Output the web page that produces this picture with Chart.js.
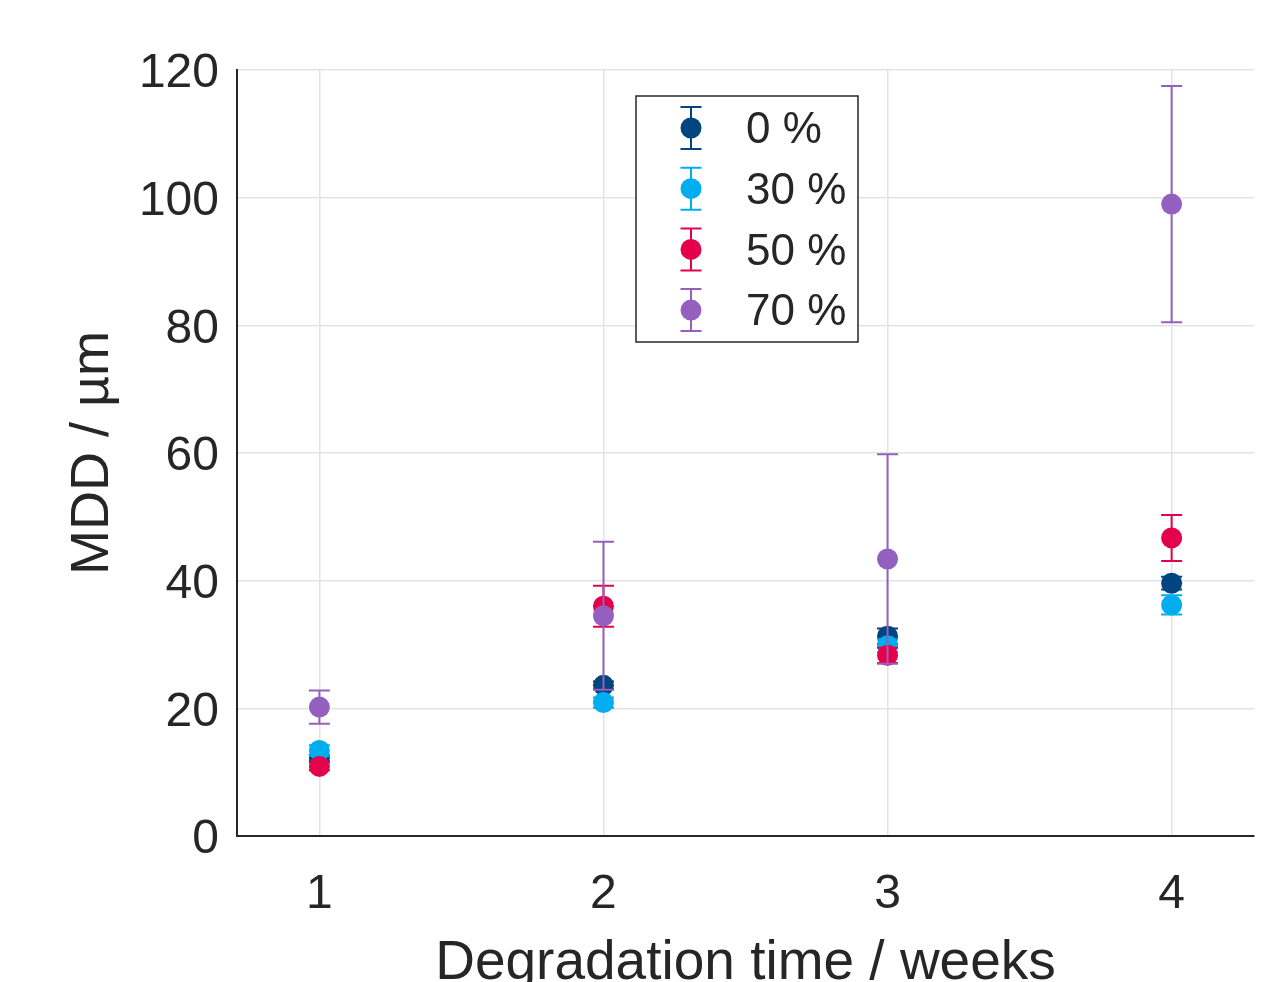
<!DOCTYPE html>
<html>
<head>
<title>MDD vs degradation time</title>
<script src="https://cdn.jsdelivr.net/npm/chart.js"></script>
<style>
  html, body { margin: 0; padding: 0; background: #fff; }
  #wrap { width: 1267px; height: 982px; }
</style>
</head>
<body>
<div id="wrap"><canvas id="mdd"></canvas></div>
<script>
// data
const weeks = [1, 2, 3, 4];
const seriesNames = ['0 %', '30 %', '50 %', '70 %'];
const mdd0  = [12.2, 23.6, 31.3, 39.6];
const err0  = [0.5, 0.6, 1.2, 1.0];
const mdd30 = [13.4, 20.9, 29.8, 36.2];
const err30 = [0.8, 0.8, 1.0, 1.5];
const mdd50 = [10.9, 36.0, 28.3, 46.7];
const err50 = [0.6, 3.2, 1.2, 3.6];
const mdd70 = [20.2, 34.5, 43.4, 99.0];
const err70 = [2.6, 11.6, 16.4, 18.5];
const xTicks = [1, 2, 3, 4];

const colors = ['#00457f', '#00aeef', '#e5004b', '#9460c0'];
const means = [mdd0, mdd30, mdd50, mdd70];
const errs = [err0, err30, err50, err70];
const ink = '#262626';
const fontName = "'Liberation Sans', Arial, sans-serif";

// error bars, drawn just before each series' markers
const errorBars = {
  id: 'errorBars',
  beforeDatasetDraw(chart, args) {
    const ds = chart.data.datasets[args.index];
    const xs = chart.scales.x, ys = chart.scales.y;
    const ctx = chart.ctx;
    ctx.save();
    ctx.strokeStyle = ds.borderColor;
    ctx.lineWidth = 2;
    ds.data.forEach((p, i) => {
      const px = xs.getPixelForValue(p.x);
      const top = ys.getPixelForValue(p.y + ds.err[i]);
      const bot = ys.getPixelForValue(p.y - ds.err[i]);
      ctx.beginPath();
      ctx.moveTo(px, top); ctx.lineTo(px, bot);
      ctx.moveTo(px - 10.5, top); ctx.lineTo(px + 10.5, top);
      ctx.moveTo(px - 10.5, bot); ctx.lineTo(px + 10.5, bot);
      ctx.stroke();
    });
    ctx.restore();
  }
};

// boxed legend inside the plot
const boxLegend = {
  id: 'boxLegend',
  afterDraw(chart) {
    const ctx = chart.ctx;
    const bx = 636, by = 96, bw = 222, bh = 246;
    ctx.save();
    ctx.fillStyle = '#fff';
    ctx.fillRect(bx, by, bw, bh);
    ctx.strokeStyle = ink;
    ctx.lineWidth = 1.5;
    ctx.strokeRect(bx, by, bw, bh);
    seriesNames.forEach((name, i) => {
      const cy = by + 32 + i * 60.7, cx = bx + 55;
      ctx.strokeStyle = colors[i];
      ctx.lineWidth = 2;
      ctx.beginPath();
      ctx.moveTo(cx, cy - 21); ctx.lineTo(cx, cy + 21);
      ctx.moveTo(cx - 10.5, cy - 21); ctx.lineTo(cx + 10.5, cy - 21);
      ctx.moveTo(cx - 10.5, cy + 21); ctx.lineTo(cx + 10.5, cy + 21);
      ctx.stroke();
      ctx.fillStyle = colors[i];
      ctx.beginPath();
      ctx.arc(cx, cy, 10.5, 0, Math.PI * 2);
      ctx.fill();
      ctx.fillStyle = ink;
      ctx.font = '44px ' + fontName;
      ctx.textBaseline = 'middle';
      ctx.textAlign = 'left';
      ctx.fillText(name, bx + 110, cy + 3);
    });
    ctx.restore();
  }
};

const datasets = seriesNames.map((name, i) => ({
  label: name,
  data: weeks.map((w, j) => ({ x: w, y: means[i][j] })),
  err: errs[i],
  backgroundColor: colors[i],
  borderColor: colors[i],
  pointRadius: 10.5,
  pointBorderWidth: 0,
  pointHoverRadius: 10.5,
  order: seriesNames.length - i
}));

new Chart(document.getElementById('mdd'), {
  type: 'scatter',
  data: { datasets: datasets },
  plugins: [errorBars, boxLegend],
  options: {
    responsive: true,
    maintainAspectRatio: false,
    animation: false,
    events: [],
    layout: { padding: { left: 0, right: 13, top: 70, bottom: 0 } },
    plugins: { legend: { display: false }, tooltip: { enabled: false } },
    scales: {
      x: {
        type: 'linear',
        min: 0.71,
        max: 4.29,
        afterBuildTicks(scale) { scale.ticks = xTicks.map(v => ({ value: v })); },
        afterFit(scale) { scale.height = 146; },
        grid: { color: '#e3e3e3', lineWidth: 1.5, drawTicks: false },
        border: { color: ink, width: 2 },
        ticks: { color: ink, padding: 30, font: { family: fontName, size: 48 } },
        title: {
          display: true, text: 'Degradation time / weeks', color: ink,
          font: { family: fontName, size: 55, lineHeight: 0.65 },
          padding: { top: 0, bottom: 0 }
        }
      },
      y: {
        min: 0,
        max: 120,
        afterFit(scale) { scale.width = 237; },
        grid: { color: '#e3e3e3', lineWidth: 1.5, drawTicks: false },
        border: { color: ink, width: 2 },
        ticks: { stepSize: 20, color: ink, padding: 18, labelOffset: 4, font: { family: fontName, size: 48 } },
        title: {
          display: true, text: 'MDD / µm', color: ink,
          font: { family: fontName, size: 54, lineHeight: 1 },
          padding: { top: 66, bottom: 0 }
        }
      }
    }
  }
});
</script>
</body>
</html>
